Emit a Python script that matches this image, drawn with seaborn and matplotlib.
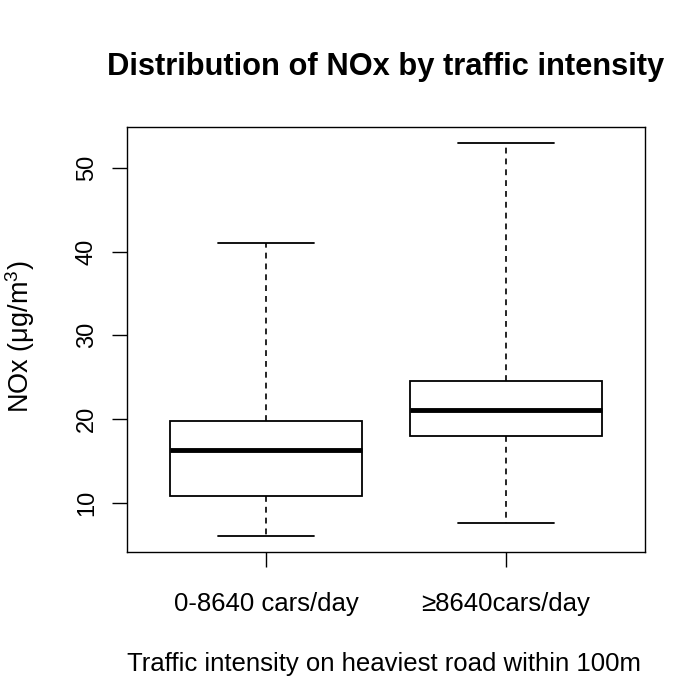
import matplotlib
matplotlib.use("Agg")
import matplotlib.pyplot as plt
import seaborn as sns
import pandas as pd

# five-number summaries (min, Q1, median, Q3, max)
groups = ["0-8640 cars/day", "\u22658640cars/day"]
low_traffic = [6.0, 10.8, 16.3, 19.8, 41.0]
high_traffic = [7.6, 18.0, 21.1, 24.5, 53.0]

df = pd.DataFrame({
    "group": [groups[0]] * len(low_traffic) + [groups[1]] * len(high_traffic),
    "nox": low_traffic + high_traffic,
})

sns.set_style("white")
plt.rcParams["font.family"] = ["Liberation Sans", "DejaVu Sans"]
plt.rcParams["mathtext.default"] = "regular"
plt.rcParams["text.color"] = "black"
plt.rcParams["axes.labelcolor"] = "black"
plt.rcParams["xtick.color"] = "black"
plt.rcParams["ytick.color"] = "black"

fig = plt.figure(figsize=(6.85, 6.95), dpi=100)
ax = fig.add_axes([0.1854, 0.2058, 0.7562, 0.6115])

sns.boxplot(data=df, x="group", y="nox", order=groups, ax=ax,
            whis=(0, 100), width=0.8, color="white", linecolor="black",
            linewidth=1.3,
            boxprops={"facecolor": "white", "edgecolor": "black", "linewidth": 1.3},
            whiskerprops={"linestyle": (0, (3.5, 3)), "linewidth": 1.2},
            capprops={"linewidth": 1.3},
            medianprops={"linewidth": 3.5, "color": "black"},
            capwidths=0.4)

ax.set_xlim(0.42 - 1, 2.58 - 1)
ax.set_ylim(4.12, 54.88)
ax.set_yticks([10, 20, 30, 40, 50])
ax.tick_params(axis="y", labelrotation=90, labelsize=17, direction="out",
               length=11, width=1, left=True, pad=10)
ax.tick_params(axis="x", labelsize=18.5, direction="out", length=11, width=1,
               bottom=True, pad=18)
for lbl in ax.get_yticklabels():
    lbl.set_verticalalignment("center")
for s in ax.spines.values():
    s.set_color("black")
    s.set_linewidth(1)

ax.set_xlabel("")
ax.set_ylabel("")
fig.text(384 / 685, 1 - 664 / 695, "Traffic intensity on heaviest road within 100m",
         ha="center", va="center", fontsize=18.5)
fig.text(20 / 685, 1 - 337 / 695, "NOx (\u03bcg/m$^{3}$)", rotation=90,
         ha="center", va="center", fontsize=19.5)
fig.text(386 / 685, 1 - 67 / 695, "Distribution of NOx by traffic intensity",
         ha="center", va="center", fontsize=22.2, fontweight="bold")

fig.savefig("out.png", dpi=100)
